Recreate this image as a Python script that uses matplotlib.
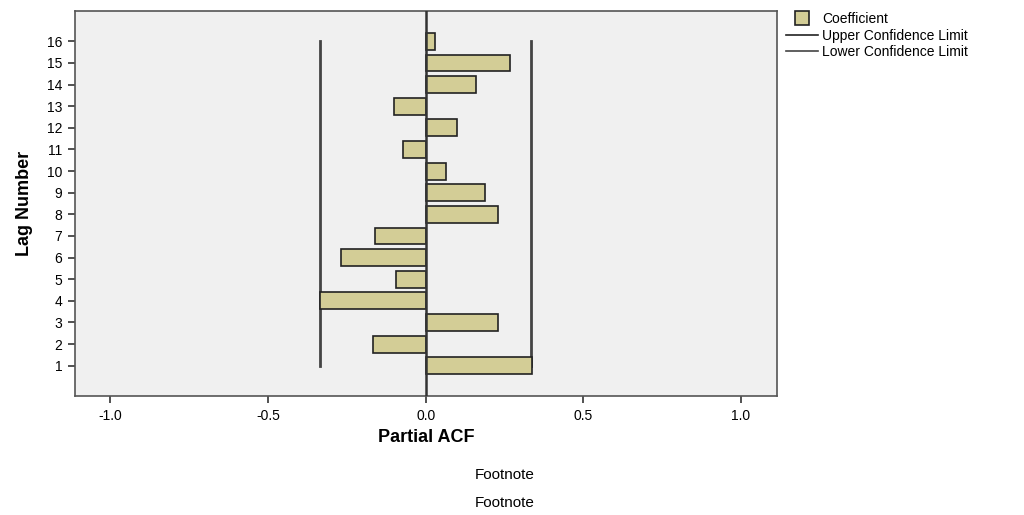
import matplotlib
matplotlib.use("Agg")
import matplotlib.pyplot as plt
from matplotlib.lines import Line2D

plt.rcParams['font.family'] = ['Liberation Sans', 'DejaVu Sans']

# données
lags = list(range(1, 17))
pacf = [0.337, -0.167, 0.228, -0.334, -0.094, -0.269, -0.160, 0.228,
        0.189, 0.064, -0.072, 0.100, -0.100, 0.160, 0.268, 0.030]
upper_limit = [0.334] * 16
lower_limit = [-0.334] * 16
x_ticks = [-1.0, -0.5, 0.0, 0.5, 1.0]

fig = plt.figure(figsize=(10.24, 5.15), dpi=100)
ax = fig.add_axes([0.0732, 0.231, 0.6856, 0.748])
ax.set_facecolor('#f0f0f0')

# barres horizontales
ax.barh(lags, pacf, height=0.78, color='#d3cd96', edgecolor='#222222',
        linewidth=1.2, zorder=3)
ax.axvline(0, color='#333333', linewidth=1.8, zorder=4)

# limites de confiance
ax.plot(upper_limit, lags, color='#444444', linewidth=2, zorder=2)
ax.plot(lower_limit, lags, color='#444444', linewidth=2, zorder=2)

ax.set_xlim(-1.112, 1.114)
ax.set_ylim(-0.40, 17.41)
ax.set_yticks(lags)
ax.set_yticklabels([str(l) for l in lags], fontsize=10)
ax.set_xticks(x_ticks)
ax.set_xticklabels(['%.1f' % t for t in x_ticks], fontsize=10)
ax.tick_params(axis='both', direction='out', length=5, width=1.2,
               color='#333333', pad=4)

for s in ax.spines.values():
    s.set_color('#555555')
    s.set_linewidth(1.2)

ax.set_xlabel('Partial ACF', fontsize=13, fontweight='bold', labelpad=5)
ax.set_ylabel('Lag Number', fontsize=13, fontweight='bold',
              family=['Liberation Sans Narrow', 'Liberation Sans', 'DejaVu Sans'],
              labelpad=10)

fig.text(0.493, 0.078, 'Footnote', ha='center', va='center', fontsize=11)
fig.text(0.493, 0.024, 'Footnote', ha='center', va='center', fontsize=11)

handles = [Line2D([0], [0], linestyle='none', marker='s', markersize=10,
                  markerfacecolor='#d3cd96', markeredgecolor='#222222',
                  markeredgewidth=1.2, label='Coefficient'),
           Line2D([0], [0], color='#222222', linewidth=1.2, label='Upper Confidence Limit'),
           Line2D([0], [0], color='#444444', linewidth=1.2, label='Lower Confidence Limit')]
fig.legend(handles=handles, loc='upper left', bbox_to_anchor=(0.762, 0.988),
           frameon=False, fontsize=10, handlelength=2.3, handletextpad=0.3,
           labelspacing=0.2, borderaxespad=0)

fig.savefig('out.png', dpi=100)
